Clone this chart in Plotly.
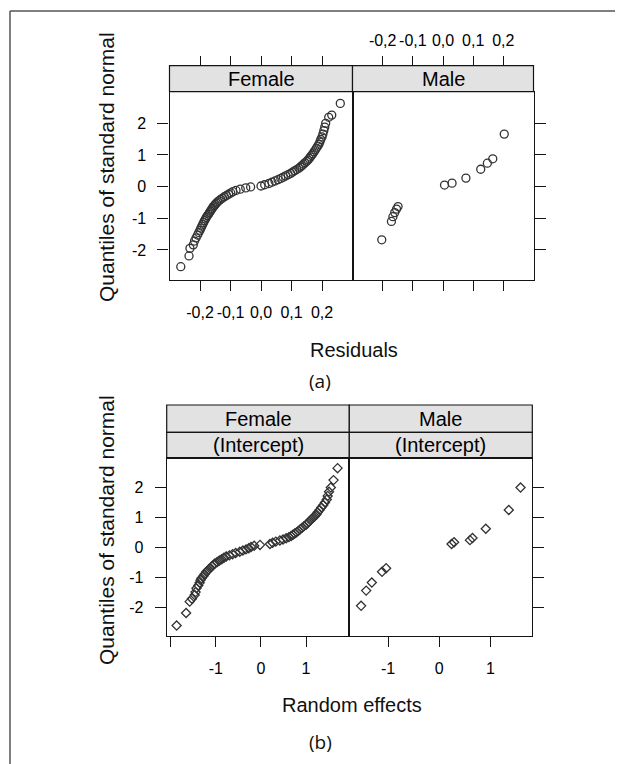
import plotly.graph_objects as go

# ---------------- data ----------------
panels_top = ["Female", "Male"]
panels_bottom = ["Female", "Male"]
strip2_label = "(Intercept)"

res_ticks = [-0.2, -0.1, 0.0, 0.1, 0.2]
res_ticktext = ["-0,2", "-0,1", "0,0", "0,1", "0,2"]
q_ticks = [-2, -1, 0, 1, 2]
re_ticks_female = [-2, -1, 0, 1]
re_ticktext_female = ["", "-1", "0", "1"]
re_ticks_male = [-1, 0, 1]

# (a) residuals, Female
res_female_y = [-2.53, -2.19, -1.95, -1.84, -1.72, -1.62, -1.53, -1.45, -1.38, -1.31,
                -1.25, -1.19, -1.13, -1.07, -1.02, -0.97, -0.92, -0.87, -0.82, -0.78,
                -0.73, -0.69, -0.64, -0.60, -0.56, -0.52, -0.48, -0.44, -0.40, -0.36,
                -0.32, -0.28, -0.24, -0.20, -0.16, -0.12, -0.08, -0.04, -0.01, 0.02,
                0.06, 0.10, 0.14, 0.18, 0.22, 0.26, 0.30, 0.34, 0.38, 0.42,
                0.46, 0.50, 0.54, 0.58, 0.62, 0.66, 0.71, 0.75, 0.80, 0.84,
                0.89, 0.94, 0.99, 1.04, 1.10, 1.16, 1.22, 1.28, 1.34, 1.41,
                1.49, 1.57, 1.66, 1.77, 1.88, 2.00, 2.19, 2.26, 2.63]
res_female_x = [-0.263, -0.236, -0.233, -0.222, -0.218, -0.213, -0.208, -0.204, -0.200, -0.197,
                -0.194, -0.191, -0.188, -0.185, -0.182, -0.179, -0.176, -0.172, -0.169, -0.166,
                -0.163, -0.160, -0.157, -0.153, -0.150, -0.146, -0.142, -0.137, -0.132, -0.126,
                -0.120, -0.113, -0.106, -0.099, -0.092, -0.082, -0.068, -0.050, -0.034, 0.000,
                0.012, 0.026, 0.036, 0.046, 0.056, 0.065, 0.073, 0.081, 0.089, 0.097,
                0.104, 0.110, 0.117, 0.124, 0.129, 0.134, 0.139, 0.144, 0.150, 0.154,
                0.158, 0.162, 0.166, 0.170, 0.174, 0.178, 0.182, 0.186, 0.190, 0.193,
                0.196, 0.200, 0.203, 0.206, 0.209, 0.212, 0.222, 0.232, 0.260]

# (a) residuals, Male
res_male_x = [-0.203, -0.171, -0.166, -0.160, -0.154, -0.149, 0.005, 0.030, 0.076, 0.125, 0.147, 0.165, 0.203]
res_male_y = [-1.68, -1.10, -0.95, -0.82, -0.71, -0.63, 0.05, 0.11, 0.27, 0.55, 0.74, 0.88, 1.66]

# (b) random effects, Female
re_female_y = [-2.62, -2.20, -1.82, -1.72, -1.60, -1.50, -1.37, -1.28, -1.19, -1.10,
               -1.04, -0.97, -0.90, -0.82, -0.76, -0.70, -0.64, -0.58, -0.54, -0.49,
               -0.44, -0.40, -0.35, -0.31, -0.27, -0.23, -0.19, -0.15, -0.11, -0.07,
               -0.03, 0.01, 0.05, 0.08, 0.11, 0.15, 0.19, 0.23, 0.26, 0.30,
               0.34, 0.38, 0.42, 0.46, 0.50, 0.55, 0.60, 0.65, 0.70, 0.75,
               0.80, 0.86, 0.92, 0.98, 1.04, 1.10, 1.17, 1.25, 1.33, 1.41,
               1.50, 1.60, 1.72, 1.86, 2.00, 2.25, 2.65]
re_female_x = [-1.87, -1.66, -1.58, -1.53, -1.47, -1.45, -1.43, -1.39, -1.36, -1.34,
               -1.32, -1.28, -1.25, -1.21, -1.17, -1.13, -1.09, -1.05, -1.02, -0.97,
               -0.92, -0.87, -0.82, -0.77, -0.70, -0.63, -0.56, -0.47, -0.40, -0.33,
               -0.27, -0.22, -0.15, -0.02, 0.20, 0.26, 0.33, 0.42, 0.49, 0.56,
               0.62, 0.67, 0.71, 0.75, 0.79, 0.83, 0.87, 0.91, 0.95, 1.00,
               1.03, 1.07, 1.11, 1.15, 1.19, 1.23, 1.26, 1.30, 1.34, 1.38,
               1.42, 1.46, 1.48, 1.51, 1.55, 1.61, 1.70]

# (b) random effects, Male
re_male_x = [-1.53, -1.43, -1.32, -1.12, -1.04, 0.24, 0.29, 0.60, 0.65, 0.91, 1.36, 1.59]
re_male_y = [-1.96, -1.45, -1.18, -0.82, -0.70, 0.11, 0.17, 0.24, 0.31, 0.62, 1.25, 2.00]

assert len(res_female_x) == len(res_female_y)
assert len(re_female_x) == len(re_female_y)

# ---------------- layout helpers ----------------
# page has an 8px body margin, so the figure is 8px smaller and shifted
OFF = 8
W, H = 623 - OFF, 764 - OFF
def px(x):
    return (x - OFF) / W
def py(y):
    return 1 - (y - OFF) / H

FONT = "Liberation Sans, Arial, Helvetica, sans-serif"
LINE = "#141414"
MARK = "#333333"
STRIP = "#e2e2e2"

# geometry (page pixels)
TOP_F = (169.5, 352.5)
TOP_M = (352.5, 533.5)
TOP_Y = (91.7, 280.0)
TOP_STRIP = (65.7, 91.7)
BOT_F = (166.7, 349.3)
BOT_M = (349.3, 532.3)
BOT_Y = (458.3, 636.0)
BOT_STRIP1 = (405.0, 432.3)
BOT_STRIP2 = (432.3, 458.3)

fig = go.Figure()

def pts(x, y, xa, ya, symbol, size):
    fig.add_trace(go.Scatter(
        x=x, y=y, xaxis=xa, yaxis=ya, mode="markers",
        marker=dict(symbol=symbol, size=size, color=MARK,
                    line=dict(color=MARK, width=1.3)),
        showlegend=False, hoverinfo="skip"))

pts(res_female_x, res_female_y, "x", "y", "circle-open", 8)
pts(res_male_x, res_male_y, "x2", "y2", "circle-open", 8)
pts(re_female_x, re_female_y, "x3", "y3", "diamond-open", 7)
pts(re_male_x, re_male_y, "x4", "y4", "diamond-open", 7)
# empty traces to carry the top tick axes above the strips
fig.add_trace(go.Scatter(x=[], y=[], xaxis="x5", yaxis="y", showlegend=False))
fig.add_trace(go.Scatter(x=[], y=[], xaxis="x6", yaxis="y2", showlegend=False))

tickfont = dict(family=FONT, size=16, color="#000")

def xax(dom, anchor, rng, tv, tt, labels, **kw):
    d = dict(domain=[px(dom[0]), px(dom[1])], anchor=anchor, range=rng,
             tickvals=tv, ticktext=tt, showticklabels=labels,
             ticks="outside", ticklen=10, tickwidth=1.2, tickcolor=LINE,
             showline=True, linecolor=LINE, linewidth=1.2, mirror=True,
             showgrid=False, zeroline=False, tickfont=tickfont,
             ticklabelstandoff=8, fixedrange=True)
    d.update(kw)
    return d

def yax(dom, anchor, rng, labels, side):
    return dict(domain=[py(dom[1]), py(dom[0])], anchor=anchor, range=rng,
                tickvals=q_ticks, ticktext=[str(v) for v in q_ticks],
                showticklabels=labels, side=side,
                ticks="outside", ticklen=11, tickwidth=1.2, tickcolor=LINE,
                showline=True, linecolor=LINE, linewidth=1.2, mirror=True,
                showgrid=False, zeroline=False, tickfont=tickfont,
                ticklabelstandoff=8, fixedrange=True)

top_xr = [-0.3, 0.3]
top_yr = [-2.95, 3.0]
bot_yr = [-2.97, 2.98]

fig.update_layout(
    xaxis=xax(TOP_F, "y", top_xr, res_ticks, res_ticktext, True),
    xaxis2=xax(TOP_M, "y2", top_xr, res_ticks, res_ticktext, False),
    xaxis5=xax(TOP_F, "free", top_xr, res_ticks, res_ticktext, False,
               overlaying="x", side="top", position=py(TOP_STRIP[0]), showline=False, mirror=False),
    xaxis6=xax(TOP_M, "free", top_xr, res_ticks, res_ticktext, True,
               overlaying="x2", side="top", position=py(TOP_STRIP[0]), showline=False, mirror=False,
               ticklabelstandoff=3),
    yaxis=yax(TOP_Y, "x", top_yr, True, "left"),
    yaxis2=yax(TOP_Y, "x2", top_yr, False, "right"),
    xaxis3=xax(BOT_F, "y3", [-2.09, 1.96], re_ticks_female, re_ticktext_female, True),
    xaxis4=xax(BOT_M, "y4", [-1.76, 1.82], re_ticks_male, [str(v) for v in re_ticks_male], True),
    yaxis3=yax(BOT_Y, "x3", bot_yr, True, "left"),
    yaxis4=yax(BOT_Y, "x4", bot_yr, False, "right"),
    width=W, height=H,
    margin=dict(l=0, r=0, t=0, b=0),
    paper_bgcolor="white", plot_bgcolor="white",
    showlegend=False,
)

shapes = []
annotations = []

def strip(x0, x1, y0, y1, text):
    shapes.append(dict(type="rect", xref="paper", yref="paper",
                       x0=px(x0), x1=px(x1), y0=py(y1), y1=py(y0),
                       fillcolor=STRIP, line=dict(color=LINE, width=1.2), layer="below"))
    annotations.append(dict(text=text, xref="paper", yref="paper",
                            x=px((x0 + x1) / 2), y=py((y0 + y1) / 2),
                            showarrow=False, xanchor="center", yanchor="middle",
                            font=dict(family=FONT, size=20, color="#000")))

strip(TOP_F[0], TOP_F[1], TOP_STRIP[0], TOP_STRIP[1], panels_top[0])
strip(TOP_M[0], TOP_M[1], TOP_STRIP[0], TOP_STRIP[1], panels_top[1])
strip(BOT_F[0], BOT_F[1], BOT_STRIP1[0], BOT_STRIP1[1], panels_bottom[0])
strip(BOT_M[0], BOT_M[1], BOT_STRIP1[0], BOT_STRIP1[1], panels_bottom[1])
strip(BOT_F[0], BOT_F[1], BOT_STRIP2[0], BOT_STRIP2[1], strip2_label)
strip(BOT_M[0], BOT_M[1], BOT_STRIP2[0], BOT_STRIP2[1], strip2_label)

# outer frame (top and left edges)
shapes.append(dict(type="line", xref="paper", yref="paper", x0=px(10), x1=1, y0=py(11), y1=py(11),
                   line=dict(color="#555", width=1.5)))
shapes.append(dict(type="line", xref="paper", yref="paper", x0=px(10), x1=px(10), y0=py(11), y1=0,
                   line=dict(color="#555", width=1.5)))

def label(text, x, y, size, angle=0, family=FONT):
    annotations.append(dict(text=text, xref="paper", yref="paper", x=px(x), y=py(y),
                            showarrow=False, xanchor="center", yanchor="middle",
                            textangle=angle, font=dict(family=family, size=size, color="#111")))

label("Quantiles of standard normal", 106, 167, 21, -90)
label("Residuals", 354, 350, 20)
label("(a)", 320, 381, 19, family="Open Sans, Noto Sans, sans-serif")
label("Quantiles of standard normal", 106, 530, 21, -90)
label("Random effects", 352, 705, 20)
label("(b)", 320, 742, 19, family="Open Sans, Noto Sans, sans-serif")

fig.update_layout(shapes=shapes, annotations=annotations)

fig.write_html("out.html")
